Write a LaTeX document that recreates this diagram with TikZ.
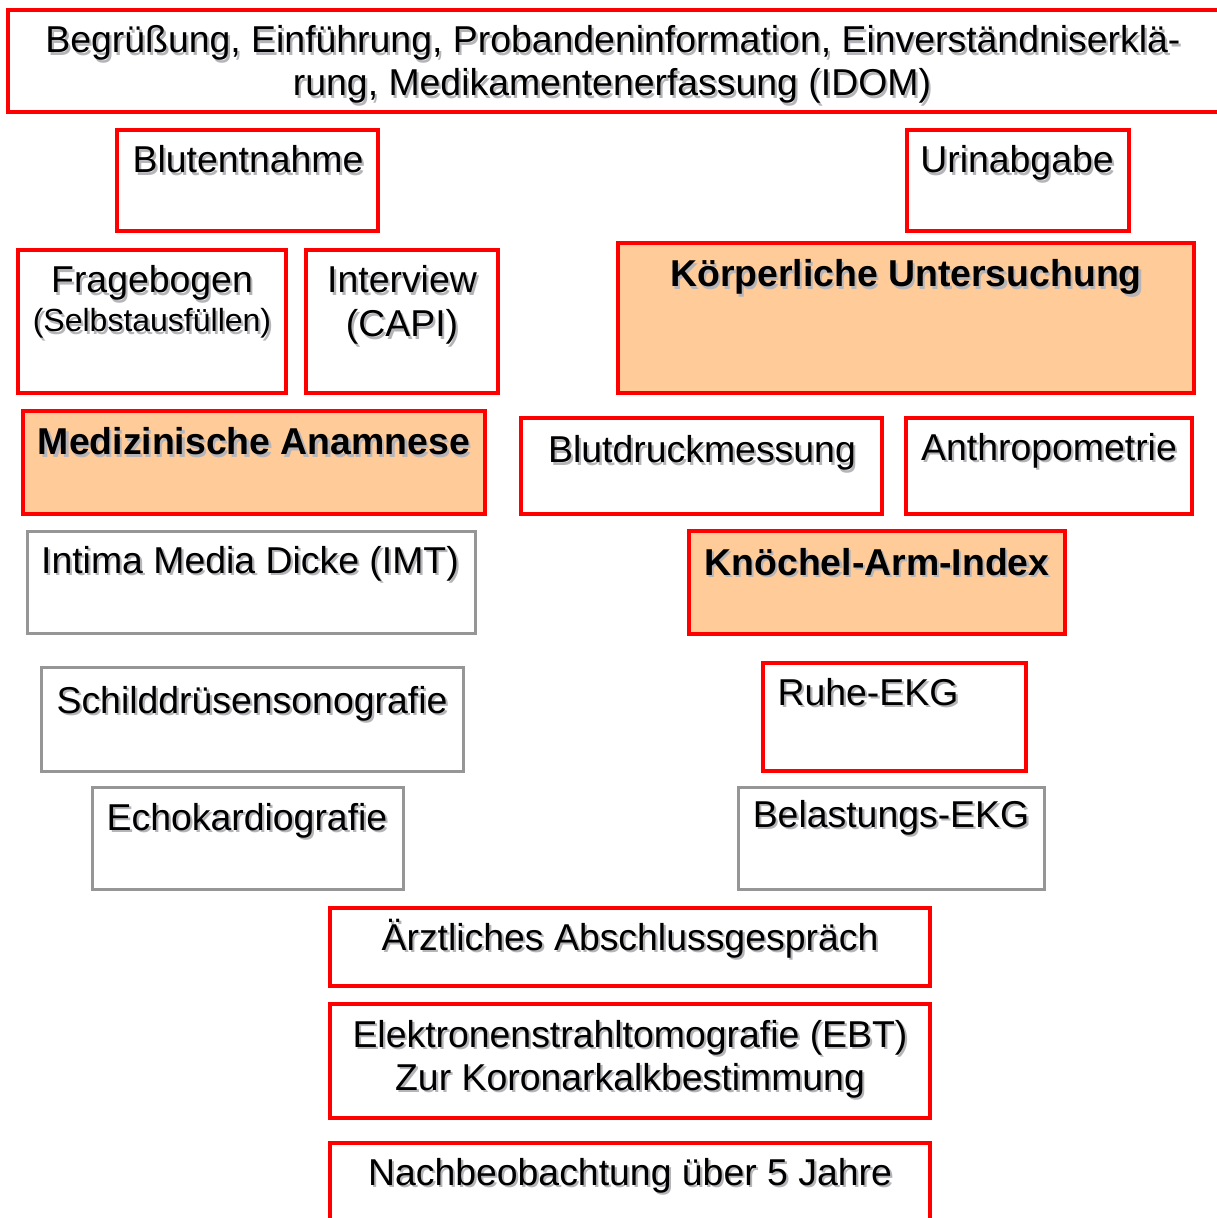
\documentclass[tikz,border=0pt]{standalone}
\usepackage{fontspec}
\setmainfont{Liberation Sans}

\definecolor{boxred}{RGB}{255,0,0}
\definecolor{boxgray}{RGB}{150,150,150}
\definecolor{peach}{RGB}{255,204,153}
\definecolor{shadowgray}{RGB}{180,180,185}
% text with a light drop shadow
\newcommand{\shtxt}[1]{\leavevmode\rlap{\raisebox{-1.1pt}{\kern1.1pt\textcolor{shadowgray}{#1}}}#1}

\tikzset{
    redbox/.style={draw=boxred, line width=2pt},
    graybox/.style={draw=boxgray, line width=1.5pt},
    peachbox/.style={redbox, fill=peach},
    lbl/.style={anchor=base, inner sep=0pt, font=\fontsize{18.7}{21.5}\selectfont},
    lblbold/.style={lbl, font=\fontsize{18.7}{21.5}\selectfont\bfseries},
    lblsmall/.style={lbl, font=\fontsize{16}{19}\selectfont},
}

\begin{document}
\begin{tikzpicture}[x=0.5pt, y=-0.5pt]
    \useasboundingbox (0,0) rectangle (1216,1218);
    %Begruessung
    \draw [redbox] (8,10) rectangle (1230,112);
    \node [lbl] (intro1) at (613,53) {\shtxt{Begrüßung, Einführung, Probandeninformation, Einverständniserklä-}};
    \node [lbl] (intro2) at (612,96) {\shtxt{rung, Medikamentenerfassung (IDOM)}};

    %linke Seite
    \draw [redbox] (117,130) rectangle (378,231);
    \node [lbl] (blut) at (248,173) {\shtxt{Blutentnahme}};
    \draw [redbox] (18,250) rectangle (286,393);
    \node [lbl] (frage) at (152,293) {\shtxt{Fragebogen}};
    \node [lblsmall] (selbst) at (152,332) {\shtxt{(Selbstausfüllen)}};
    \draw [redbox] (306,250) rectangle (498,393);
    \node [lbl] (interview) at (402,293) {\shtxt{Interview}};
    \node [lbl] (capi) at (402,337) {\shtxt{(CAPI)}};
    \draw [peachbox] (23,411) rectangle (485,514);
    \node [lblbold] (anamnese) at (254,455) {\shtxt{Medizinische Anamnese}};
    \draw [graybox] (27,531) rectangle (475,633);
    \node [lbl] (imt) at (250,573) {\shtxt{Intima Media Dicke (IMT)}};
    \draw [graybox] (41,667) rectangle (463,771);
    \node [lbl] (schild) at (252,713) {\shtxt{Schilddrüsensonografie}};
    \draw [graybox] (92,787) rectangle (403,889);
    \node [lbl] (echo) at (247,830) {\shtxt{Echokardiografie}};

    %rechte Seite
    \draw [redbox] (907,130) rectangle (1129,231);
    \node [lbl] (urin) at (1017,173) {\shtxt{Urinabgabe}};
    \draw [peachbox] (618,243) rectangle (1194,393);
    \node [lblbold] (koerper) at (906,287) {\shtxt{Körperliche Untersuchung}};
    \draw [redbox] (521,418) rectangle (882,514);
    \node [lbl] (blutdruck) at (702,463) {\shtxt{Blutdruckmessung}};
    \draw [redbox] (906,418) rectangle (1192,514);
    \node [lbl] (anthro) at (1049,460) {\shtxt{Anthropometrie}};
    \draw [peachbox] (689,531) rectangle (1065,634);
    \node [lblbold] (abi) at (877,575) {\shtxt{Knöchel-Arm-Index}};
    \draw [redbox] (763,663) rectangle (1026,771);
    \node [lbl] (ruhe) at (868,705) {\shtxt{Ruhe-EKG}};
    \draw [graybox] (738,787) rectangle (1044,889);
    \node [lbl] (belastung) at (891,827) {\shtxt{Belastungs-EKG}};

    %Abschluss
    \draw [redbox] (330,908) rectangle (930,986);
    \node [lbl] (gespraech) at (630,950) {\shtxt{Ärztliches Abschlussgespräch}};
    \draw [redbox] (330,1004) rectangle (930,1118);
    \node [lbl] (ebt1) at (630,1047) {\shtxt{Elektronenstrahltomografie (EBT)}};
    \node [lbl] (ebt2) at (630,1090) {\shtxt{Zur Koronarkalkbestimmung}};
    \draw [redbox] (330,1143) rectangle (930,1240);
    \node [lbl] (nachbeob) at (630,1185) {\shtxt{Nachbeobachtung über 5 Jahre}};
\end{tikzpicture}
\end{document}
